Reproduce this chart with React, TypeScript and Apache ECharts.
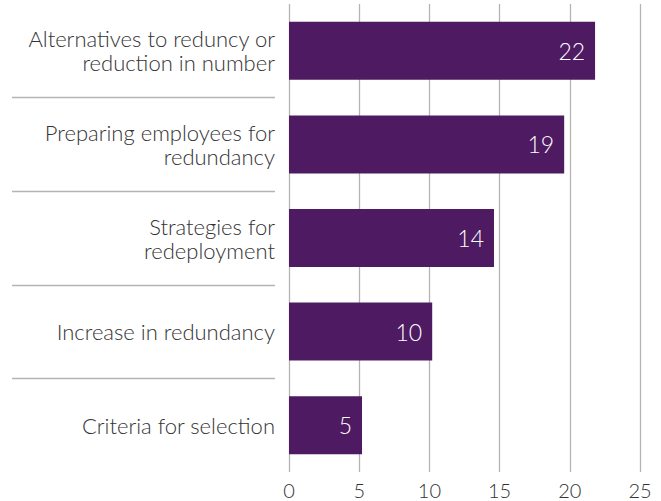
import React, { useEffect, useRef } from "react";
import * as echarts from "echarts";

const categories = [
  "Alternatives to reduncy or\nreduction in number",
  "Preparing employees for\nredundancy",
  "Strategies for\nredeployment",
  "Increase in redundancy",
  "Criteria for selection",
];
const values = [21.8, 19.6, 14.6, 10.2, 5.2];
const valueLabels = ["22", "19", "14", "10", "5"];
const xTicks = [0, 5, 10, 15, 20, 25];

const FONT = "Lato";
const TEXT = "#333333";
const GRID = "#b4b4b4";
const BAR = "#4e1a61";

export default function App() {
  const ref = useRef<HTMLDivElement>(null);
  useEffect(() => {
    if (!ref.current) return;
    const chart = echarts.init(ref.current, undefined, { renderer: "svg" });
    chart.setOption({
      animation: false,
      grid: [
        { left: 289, width: 351, top: 4, height: 468 },
        { left: 12, width: 263, top: 4, height: 468 },
      ],
      xAxis: [
        {
          type: "value",
          gridIndex: 0,
          min: xTicks[0],
          max: xTicks[xTicks.length - 1],
          interval: 5,
          axisLine: { show: false },
          axisTick: { show: false },
          splitLine: { show: true, lineStyle: { color: GRID, width: 1.3 } },
          axisLabel: {
            margin: 8,
            color: TEXT,
            fontFamily: FONT,
            fontWeight: 300,
            fontSize: 20,
            lineHeight: 20,
          },
        },
        { type: "value", gridIndex: 1, show: false, min: 0, max: 1 },
      ],
      yAxis: [
        {
          type: "category",
          gridIndex: 0,
          data: categories,
          inverse: true,
          axisLine: { show: false },
          axisTick: { show: false },
          splitLine: { show: false },
          axisLabel: {
            margin: 14,
            color: TEXT,
            fontFamily: FONT,
            fontWeight: 300,
            fontSize: 22,
            lineHeight: 24,
            align: "right",
          },
        },
        {
          type: "category",
          gridIndex: 1,
          data: categories,
          inverse: true,
          axisLine: { show: false },
          axisTick: { show: false },
          axisLabel: { show: false },
          splitLine: {
            show: true,
            interval: 0,
            showMinLine: false,
            showMaxLine: false,
            lineStyle: { color: GRID, width: 1.3 },
          },
        },
      ],
      series: [
        {
          type: "bar",
          xAxisIndex: 0,
          yAxisIndex: 0,
          data: values,
          barWidth: "62%",
          itemStyle: { color: BAR },
          label: {
            show: true,
            position: "insideRight",
            distance: 10,
            color: "#ffffff",
            fontFamily: FONT,
            fontWeight: 300,
            fontSize: 23,
            formatter: (p: any) => valueLabels[p.dataIndex],
          },
        },
      ],
    });
    return () => chart.dispose();
  }, []);
  return (
    <div
      ref={ref}
      style={{ position: "absolute", left: 0, top: 0, width: 661, height: 501, background: "#fff" }}
    />
  );
}
